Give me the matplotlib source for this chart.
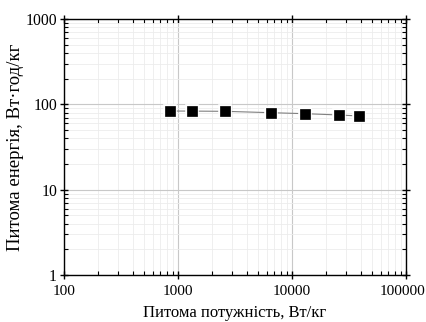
import matplotlib
matplotlib.use("Agg")
import matplotlib.pyplot as plt
import matplotlib.transforms as mtransforms
from matplotlib.ticker import LogLocator, FixedLocator, FixedFormatter, NullFormatter

power = [855, 1320, 2600, 6550, 13000, 26000, 38900]
energy = [83.5, 83.3, 82.8, 79.8, 77.7, 75.0, 73.0]
xticks = [100, 1000, 10000, 100000]
xticklabels = ["100", "1000", "10000", "100000"]
yticks = [1, 10, 100, 1000]
yticklabels = ["1", "10", "100", "1000"]

plt.rcParams['font.family'] = ['Liberation Serif', 'DejaVu Serif']
fig = plt.figure(figsize=(4.27, 3.22), dpi=100)
ax = fig.add_axes([64/427, 1-275/322, (406-64)/427, (275-19)/322])
ax.set_xscale('log')
ax.set_yscale('log')
ax.set_xlim(100, 100000)
ax.set_ylim(1, 1000)

ax.grid(True, which='major', color='#c8c8c8', linewidth=0.8)
ax.grid(True, which='minor', color='#ececec', linewidth=0.6)
ax.set_axisbelow(True)

ax.plot(power, energy, color='#808080', linewidth=0.8, zorder=2)
ax.plot(power, energy, linestyle='none', marker='s', markersize=7.5,
        markerfacecolor='black', markeredgecolor='white', markeredgewidth=2.6, zorder=3)
ax.plot(power, energy, linestyle='none', marker='s', markersize=7.5,
        markerfacecolor='black', markeredgecolor='black', markeredgewidth=0.5, zorder=4)

ax.xaxis.set_major_locator(FixedLocator(xticks))
ax.xaxis.set_major_formatter(FixedFormatter(xticklabels))
ax.yaxis.set_major_locator(FixedLocator(yticks))
ax.yaxis.set_major_formatter(FixedFormatter(yticklabels))
ax.xaxis.set_minor_locator(LogLocator(base=10, subs=range(2, 10)))
ax.yaxis.set_minor_locator(LogLocator(base=10, subs=range(2, 10)))
ax.xaxis.set_minor_formatter(NullFormatter())
ax.yaxis.set_minor_formatter(NullFormatter())

ax.tick_params(which='both', top=True, right=True, labelsize=11.3)
ax.tick_params(axis='x', labelsize=11)
ax.tick_params(which='major', direction='inout', length=6, width=1)
ax.tick_params(which='minor', direction='in', length=3, width=0.8)
ax.tick_params(axis='x', which='major', pad=4)
ax.tick_params(axis='y', which='major', pad=2)
for s in ax.spines.values():
    s.set_linewidth(1.0)

# keep the last x tick label inside the canvas
last = ax.get_xticklabels()[-1]
last.set_transform(last.get_transform() + mtransforms.ScaledTranslation(-3/100, 0, fig.dpi_scale_trans))

ax.set_xlabel('Питома потужність, Вт/кг', fontsize=12, labelpad=5)
ax.set_ylabel('Питома енергія, Вт·год/кг', fontsize=13.5, labelpad=1)

fig.savefig('out.png', dpi=100)
